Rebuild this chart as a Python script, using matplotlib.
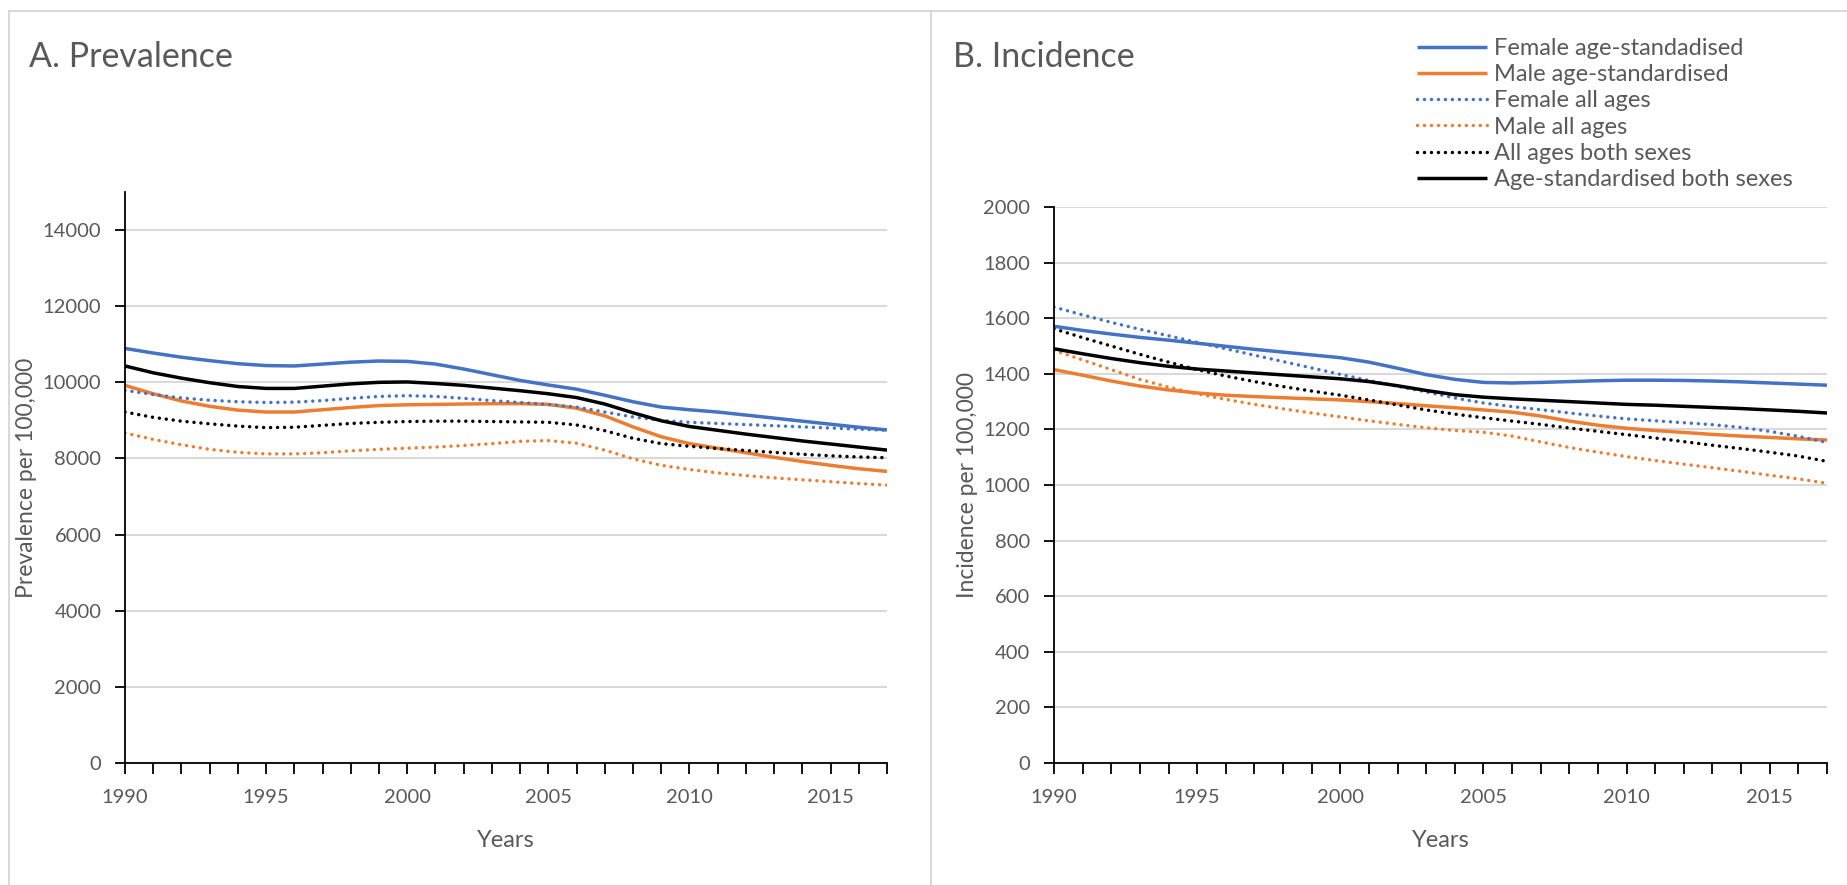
import matplotlib
matplotlib.use("Agg")
import matplotlib.pyplot as plt
from matplotlib.lines import Line2D

plt.rcParams['font.family'] = ['Lato', 'DejaVu Sans']

years = list(range(1990, 2018))

# prevalence per 100,000
prev_female_std = [10890, 10770, 10660, 10570, 10490, 10440, 10430, 10480, 10530, 10560,
                   10550, 10480, 10350, 10200, 10050, 9930, 9820, 9660, 9490, 9350,
                   9280, 9220, 9140, 9060, 8980, 8900, 8820, 8750]
prev_male_std = [9920, 9700, 9510, 9370, 9270, 9220, 9220, 9280, 9340, 9390,
                 9410, 9420, 9430, 9440, 9440, 9420, 9320, 9120, 8830, 8570,
                 8390, 8270, 8150, 8030, 7920, 7820, 7730, 7660]
prev_female_all = [9790, 9680, 9590, 9530, 9490, 9470, 9480, 9520, 9580, 9630,
                   9650, 9630, 9580, 9520, 9470, 9420, 9350, 9220, 9090, 9000,
                   8950, 8920, 8890, 8860, 8830, 8800, 8770, 8740]
prev_male_all = [8670, 8500, 8360, 8240, 8160, 8120, 8120, 8150, 8200, 8240,
                 8270, 8300, 8340, 8390, 8450, 8470, 8400, 8220, 7990, 7820,
                 7710, 7620, 7550, 7490, 7440, 7390, 7340, 7300]
prev_both_all = [9220, 9080, 8980, 8910, 8850, 8810, 8820, 8870, 8920, 8950,
                 8970, 8980, 8980, 8970, 8960, 8950, 8880, 8730, 8530, 8390,
                 8320, 8260, 8210, 8160, 8110, 8070, 8040, 8020]
prev_both_std = [10430, 10250, 10110, 9990, 9890, 9840, 9840, 9900, 9960, 10000,
                 10010, 9970, 9920, 9850, 9780, 9700, 9600, 9430, 9200, 8990,
                 8840, 8740, 8640, 8550, 8460, 8380, 8300, 8220]

# incidence per 100,000
inc_female_std = [1571, 1556, 1543, 1531, 1521, 1510, 1499, 1488, 1478, 1468,
                  1458, 1442, 1420, 1397, 1380, 1369, 1367, 1369, 1372, 1375,
                  1377, 1377, 1376, 1374, 1371, 1367, 1363, 1359]
inc_male_std = [1415, 1395, 1374, 1356, 1342, 1331, 1323, 1318, 1314, 1310,
                1306, 1300, 1293, 1285, 1278, 1270, 1262, 1248, 1230, 1215,
                1204, 1196, 1189, 1182, 1176, 1171, 1166, 1162]
inc_female_all = [1640, 1612, 1585, 1560, 1537, 1513, 1490, 1467, 1444, 1421,
                  1398, 1376, 1355, 1335, 1313, 1295, 1282, 1271, 1259, 1248,
                  1238, 1231, 1224, 1217, 1207, 1193, 1175, 1153]
inc_male_all = [1484, 1450, 1415, 1380, 1352, 1328, 1308, 1290, 1274, 1259,
                1245, 1231, 1218, 1206, 1196, 1190, 1176, 1155, 1135, 1118,
                1102, 1088, 1075, 1062, 1049, 1035, 1022, 1006]
inc_both_all = [1562, 1530, 1500, 1470, 1442, 1415, 1392, 1372, 1354, 1338,
                1323, 1306, 1288, 1270, 1255, 1242, 1230, 1218, 1205, 1193,
                1181, 1169, 1156, 1143, 1131, 1118, 1104, 1085]
inc_both_std = [1490, 1472, 1455, 1440, 1427, 1417, 1410, 1403, 1396, 1389,
                1382, 1372, 1357, 1340, 1325, 1316, 1310, 1305, 1300, 1295,
                1290, 1287, 1283, 1279, 1275, 1270, 1265, 1259]

labels = ['Female age-standadised', 'Male age-standardised', 'Female all ages',
          'Male all ages', 'All ages both sexes', 'Age-standardised both sexes']
colors = ['#4472C4', '#ED7D31', '#4472C4', '#ED7D31', 'black', 'black']
dotted = [False, False, True, True, True, False]

grey = '#595959'
W, H = 1847, 885
fig = plt.figure(figsize=(W / 100, H / 100), dpi=100)

# panel frames
frame = dict(color='#d9d9d9', lw=1.5, transform=fig.transFigure)
fig.add_artist(Line2D([9 / W, 1], [1 - 11 / H, 1 - 11 / H], **frame))
fig.add_artist(Line2D([9 / W, 9 / W], [0, 1 - 11 / H], **frame))
fig.add_artist(Line2D([931 / W, 931 / W], [0, 1 - 11 / H], **frame))

ax1 = fig.add_axes([125 / W, 1 - 763 / H, (887 - 125) / W, (763 - 192) / H])
ax2 = fig.add_axes([1054 / W, 1 - 763 / H, (1827 - 1054) / W, (763 - 207) / H])


def draw(ax, series, ymax, ystep, ylabel, title, tx):
    handles = []
    for vals, c, d, lab in zip(series, colors, dotted, labels):
        if d:
            h, = ax.plot(years, vals, color=c, lw=2.5, dashes=(0.01, 2),
                         dash_capstyle='round', label=lab)
        else:
            h, = ax.plot(years, vals, color=c, lw=2.5, solid_capstyle='butt', label=lab)
        handles.append(h)
    ax.set_xlim(1990, 2017)
    ax.set_ylim(0, ymax)
    ax.set_yticks(range(0, ymax + 1, ystep) if ymax % ystep == 0 else range(0, ymax, ystep))
    ax.set_xticks([1990, 1995, 2000, 2005, 2010, 2015])
    ax.set_xticks(years, minor=True)
    ax.grid(axis='y', color='#d9d9d9', lw=1.5)
    ax.set_axisbelow(True)
    for s in ['top', 'right']:
        ax.spines[s].set_visible(False)
    for s in ['left', 'bottom']:
        ax.spines[s].set_linewidth(1.3)
    ax.tick_params(axis='x', which='both', length=8, width=1.3, colors='black',
                   labelcolor=grey, labelsize=14.5, pad=11)
    ax.tick_params(axis='y', length=7, width=1.3, colors='black',
                   labelcolor=grey, labelsize=14.5, pad=10)
    ax.set_xlabel('Years', color=grey, fontsize=17, labelpad=17)
    ax.set_ylabel(ylabel, color=grey, fontsize=16.5, labelpad=4)
    fig.text(tx / W, 1 - 57 / H, title, color=grey, fontsize=24.5, va='center', ha='left')
    return handles


draw(ax1, [prev_female_std, prev_male_std, prev_female_all, prev_male_all,
           prev_both_all, prev_both_std], 15000, 2000, 'Prevalence per 100,000',
     'A. Prevalence', 29)
hs = draw(ax2, [inc_female_std, inc_male_std, inc_female_all, inc_male_all,
                inc_both_all, inc_both_std], 2000, 200, 'Incidence per 100,000',
          'B. Incidence', 953)

fig.legend(handles=hs, loc='upper left', bbox_to_anchor=(1417 / W, 1 - 38 / H),
           frameon=False, fontsize=17, labelcolor=grey, handlelength=2.97,
           handletextpad=0.3, labelspacing=0.22, borderpad=0, borderaxespad=0)

fig.savefig('out.png', dpi=100)
